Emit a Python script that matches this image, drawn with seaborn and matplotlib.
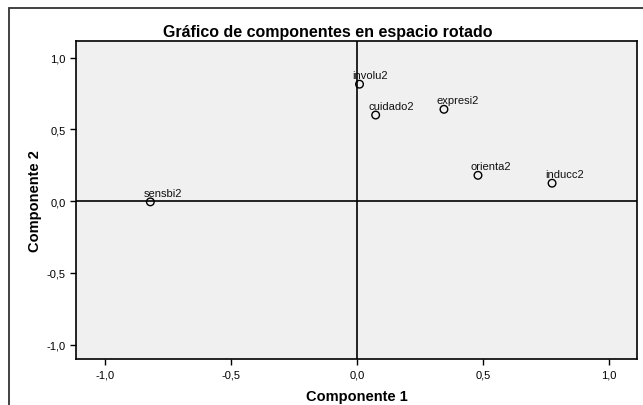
import matplotlib
matplotlib.use("Agg")
import matplotlib.pyplot as plt
import seaborn as sns
import pandas as pd
from matplotlib.patches import Rectangle

# Cargas de componentes rotados
variables = ["sensbi2", "involu2", "cuidado2", "expresi2", "orienta2", "inducc2"]
comp1 = [-0.82, 0.01, 0.074, 0.345, 0.48, 0.774]
comp2 = [-0.005, 0.815, 0.60, 0.64, 0.18, 0.125]
ticks = [-1.0, -0.5, 0.0, 0.5, 1.0]
tick_labels = ["-1,0", "-0,5", "0,0", "0,5", "1,0"]

df = pd.DataFrame({"var": variables, "c1": comp1, "c2": comp2})

sns.set_style("white")
plt.rcParams["font.family"] = ["Liberation Sans", "DejaVu Sans"]
plt.rcParams["text.color"] = "black"
plt.rcParams["axes.labelcolor"] = "black"

fig = plt.figure(figsize=(6.43, 4.06), dpi=100)
ax = fig.add_axes([76 / 643, 1 - 360 / 406, (637 - 76) / 643, (360 - 42) / 406])
ax.set_facecolor("#f0f0f0")

# marco exterior
fig.patches.append(Rectangle((9 / 643, -0.1), 1.2, 1 - 9 / 406 + 0.1,
                             transform=fig.transFigure, fill=False,
                             edgecolor="#333333", linewidth=1.3))

ax.axvline(0, color="black", lw=1.2, zorder=1)
ax.axhline(0, color="black", lw=1.2, zorder=1)

sns.scatterplot(data=df, x="c1", y="c2", ax=ax, marker="o", s=30,
                facecolor="none", edgecolor="black", linewidth=1.0, zorder=3)

for _, r in df.iterrows():
    ax.annotate(r["var"], (r["c1"], r["c2"]), xytext=(-7, 4),
                textcoords="offset pixels", fontsize=8, color="#111111",
                ha="left", va="bottom")

ax.set_xlim(-1.115, 1.111)
ax.set_ylim(-1.10, 1.116)
ax.set_xticks(ticks)
ax.set_xticklabels(tick_labels)
ax.set_yticks(ticks)
ax.set_yticklabels(tick_labels)
ax.tick_params(axis="both", direction="out", length=4, width=1, labelsize=8,
               colors="black", bottom=True, left=True)
for s in ax.spines.values():
    s.set_color("black")
    s.set_linewidth(1.2)

ax.set_xlabel("Componente 1", fontsize=10.5, fontweight="bold", labelpad=7)
ax.set_ylabel("Componente 2", fontsize=10.5, fontweight="bold", labelpad=3)
fig.text(328 / 643, 1 - 33 / 406, "Gráfico de componentes en espacio rotado",
         ha="center", va="center", fontsize=11.5, fontweight="bold")

fig.savefig("out.png", dpi=100)
